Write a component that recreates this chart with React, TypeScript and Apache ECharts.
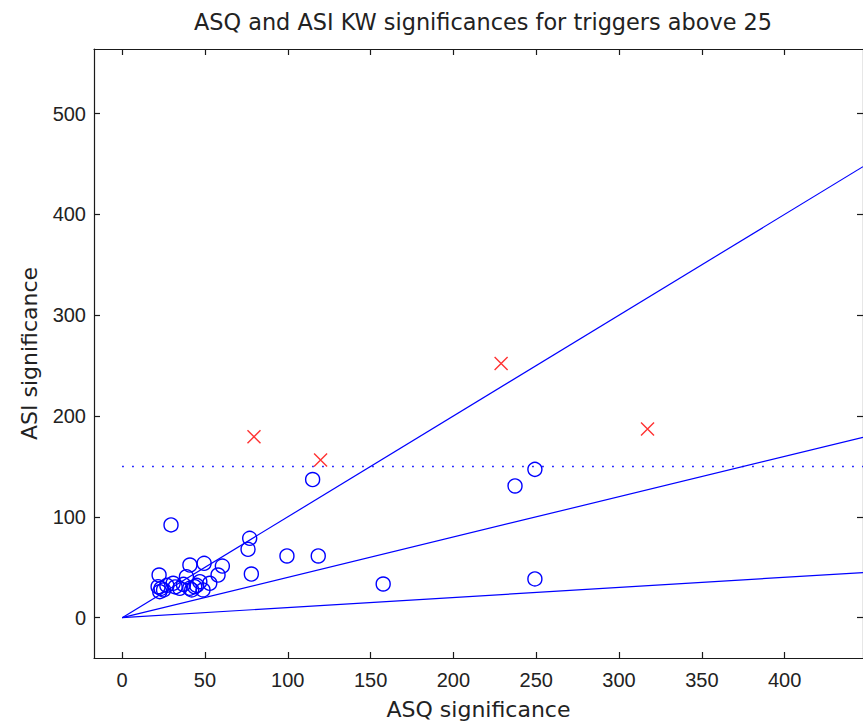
import React, { useEffect, useRef } from "react";
import * as echarts from "echarts";

// ---- data ----
const circlePoints: [number, number][] = [
  [22.3, 42.3], [22.7, 25.8], [21.7, 30.7], [25.0, 27.5], [29.5, 92.0],
  [30.8, 34.1], [34.8, 29.1], [38.8, 40.6], [40.8, 29.1], [40.9, 52.2],
  [43.8, 30.7], [46.9, 35.7], [48.8, 27.5], [49.5, 53.9], [52.9, 34.1],
  [57.9, 42.3], [60.5, 51.2], [76.0, 67.8], [77.0, 78.7], [78.0, 43.3],
  [99.5, 61.2], [115.0, 137.0], [118.4, 61.2], [157.6, 33.4],
  [237.2, 130.6], [249.2, 147.1], [249.2, 38.4],
  [23.5, 29.0], [27.0, 32.0], [32.0, 30.5], [37.0, 33.0], [42.0, 27.5], [45.0, 32.0],
];
const crossPoints: [number, number][] = [
  [79.6, 179.4], [119.8, 156.3], [228.8, 252.2], [317.2, 187.1],
];
const refSlopes = [1, 0.4, 0.1];
const thresholdY = 150;
const xTicks = [0, 50, 100, 150, 200, 250, 300, 350, 400];
const yTicks = [0, 100, 200, 300, 400, 500];
const xMin = -17;
const xMax = 447.3;
const yMin = -40;
const yMax = 564;

const BLUE = "#0000ff";
const RED = "#ff3333";
const AXIS = "#1a1a1a";

export default function App() {
  const ref = useRef<HTMLDivElement>(null);
  useEffect(() => {
    if (!ref.current) return;
    const chart = echarts.init(ref.current, undefined, { renderer: "svg" });
    const axisCommon = {
      type: "value" as const,
      splitLine: { show: false },
      axisLine: { show: true, onZero: false, lineStyle: { color: AXIS, width: 1.2 } },
      axisTick: { show: true, inside: true, length: 6, lineStyle: { color: AXIS, width: 1.2 } },
    };
    const lineSeries = refSlopes.map((s) => ({
      type: "line",
      data: [[0, 0], [xMax, s * xMax]],
      showSymbol: false,
      symbol: "none",
      lineStyle: { color: BLUE, width: 1.2 },
      z: 2,
      silent: true,
    }));
    chart.setOption({
      animation: false,
      backgroundColor: "#ffffff",
      title: {
        text: "ASQ and ASI KW significances for triggers above 25",
        left: 478,
        textAlign: "center",
        top: 6,
        textStyle: { fontFamily: "DejaVu Sans", fontSize: 22.4, fontWeight: "normal", color: "#222" },
      },
      grid: { left: 94, top: 49, width: 770, height: 609, containLabel: false },
      xAxis: [
        {
          ...axisCommon,
          position: "bottom",
          min: xMin,
          max: xMax,
          name: "ASQ significance",
          nameLocation: "middle",
          nameGap: 40,
          nameTextStyle: { fontFamily: "DejaVu Sans", fontSize: 22, color: "#222" },
          axisTick: { ...axisCommon.axisTick, customValues: xTicks },
          axisLabel: {
            customValues: xTicks,
            margin: 12,
            fontFamily: "Liberation Sans",
            fontSize: 20,
            color: "#222",
          },
        },
        {
          ...axisCommon,
          position: "top",
          min: xMin,
          max: xMax,
          axisTick: { ...axisCommon.axisTick, customValues: xTicks },
          axisLabel: { show: false },
        },
      ],
      yAxis: [
        {
          ...axisCommon,
          position: "left",
          min: yMin,
          max: yMax,
          name: "ASI significance",
          nameLocation: "middle",
          nameGap: 54,
          nameTextStyle: { fontFamily: "DejaVu Sans", fontSize: 22, color: "#222" },
          axisTick: { ...axisCommon.axisTick, customValues: yTicks },
          axisLabel: {
            customValues: yTicks,
            margin: 8,
            fontFamily: "Liberation Sans",
            fontSize: 20,
            color: "#222",
          },
        },
        {
          ...axisCommon,
          position: "right",
          min: yMin,
          max: yMax,
          axisTick: { ...axisCommon.axisTick, customValues: yTicks },
          axisLabel: { show: false },
        },
      ],
      series: [
        ...lineSeries,
        {
          type: "line",
          data: [[0, thresholdY], [xMax, thresholdY]],
          showSymbol: false,
          symbol: "none",
          lineStyle: { color: BLUE, width: 1.6, type: [1.6, 8.4], cap: "butt" },
          z: 2,
          silent: true,
        },
        {
          type: "scatter",
          data: circlePoints,
          symbol: "circle",
          symbolSize: 14,
          itemStyle: { color: "rgba(0,0,0,0)", borderColor: BLUE, borderWidth: 1.4, opacity: 1 },
          z: 3,
        },
        {
          type: "scatter",
          data: crossPoints,
          symbol: "path://M0,0L10,10M10,0L0,10",
          symbolSize: 13,
          itemStyle: { color: "none", borderColor: RED, borderWidth: 1.4, opacity: 1 },
          z: 4,
        },
      ],
    });
    return () => chart.dispose();
  }, []);
  return (
    <div
      ref={ref}
      style={{ position: "absolute", left: 0, top: 0, width: 863, height: 727, background: "#fff" }}
    />
  );
}
